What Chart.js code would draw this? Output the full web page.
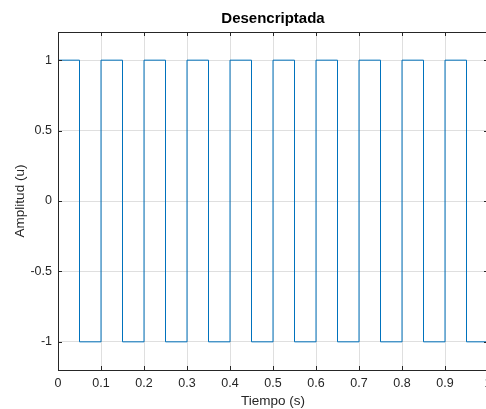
<!DOCTYPE html>
<html>
<head>
<meta charset="utf-8">
<script src="https://cdn.jsdelivr.net/npm/chart.js@4/dist/chart.umd.min.js"></script>
<style>
  html, body { margin: 0; padding: 0; background: #fff; overflow: hidden; }
  #wrap { width: 486px; height: 409px; overflow: hidden; }
  canvas { display: block; }
</style>
</head>
<body>
<div id="wrap"><canvas id="grafico" width="500" height="409"></canvas></div>
<script>
// --- Datos ---
const tiempo = [0, 0.05, 0.1, 0.15, 0.2, 0.25, 0.3, 0.35, 0.4, 0.45, 0.5,
                0.55, 0.6, 0.65, 0.7, 0.75, 0.8, 0.85, 0.9, 0.95, 1];
const amplitud = [1, -1, 1, -1, 1, -1, 1, -1, 1, -1, 1,
                  -1, 1, -1, 1, -1, 1, -1, 1, -1, -1];

const ticksX = [0, 0.1, 0.2, 0.3, 0.4, 0.5, 0.6, 0.7, 0.8, 0.9, 1];
const etiquetasX = ['0', '0.1', '0.2', '0.3', '0.4', '0.5', '0.6', '0.7', '0.8', '0.9', '1'];
const ticksY = [-1, -0.5, 0, 0.5, 1];
const etiquetasY = ['-1', '-0.5', '0', '0.5', '1'];

const TITULO = 'Desencriptada';
const FUENTE = "'Liberation Sans', Arial, Helvetica, sans-serif";
const GRIS = '#262626';

// --- Caja, marcas hacia dentro y titulo centrado sobre los ejes (estilo MATLAB) ---
const cajaMatlab = {
    id: 'cajaMatlab',
    afterDraw(chart) {
        const { ctx, chartArea: a, scales } = chart;
        const largo = 4;
        ctx.save();
        ctx.strokeStyle = GRIS;
        ctx.lineWidth = 1;
        ctx.beginPath();
        ticksX.forEach(v => {
            const px = Math.round(scales.x.getPixelForValue(v)) + 0.5;
            ctx.moveTo(px, a.top); ctx.lineTo(px, a.top + largo);
            ctx.moveTo(px, a.bottom); ctx.lineTo(px, a.bottom - largo);
        });
        ticksY.forEach(v => {
            const py = Math.round(scales.y.getPixelForValue(v)) + 0.5;
            ctx.moveTo(a.left, py); ctx.lineTo(a.left + largo, py);
            ctx.moveTo(a.right, py); ctx.lineTo(a.right - largo, py);
        });
        ctx.stroke();
        ctx.strokeRect(Math.round(a.left) + 0.5, Math.round(a.top) + 0.5,
                       Math.round(a.right - a.left), Math.round(a.bottom - a.top));

        ctx.fillStyle = '#000';
        ctx.font = 'bold 15px ' + FUENTE;
        ctx.textAlign = 'center';
        ctx.textBaseline = 'middle';
        ctx.fillText(TITULO, (a.left + a.right) / 2, 19);
        ctx.restore();
    }
};

new Chart(document.getElementById('grafico'), {
    type: 'line',
    data: {
        datasets: [{
            data: tiempo.map((t, i) => ({ x: t, y: amplitud[i] })),
            borderColor: '#0072BD',
            borderWidth: 1,
            stepped: 'before',
            pointRadius: 0,
            fill: false
        }]
    },
    options: {
        responsive: false,
        animation: false,
        layout: { padding: { top: 32, left: 0, right: 12, bottom: 0 } },
        plugins: {
            legend: { display: false },
            tooltip: { enabled: false },
            title: { display: false }
        },
        scales: {
            x: {
                type: 'linear',
                min: 0,
                max: 1,
                afterBuildTicks: s => { s.ticks = ticksX.map(v => ({ value: v })); },
                afterFit: s => { s.height = 39; },
                ticks: {
                    autoSkip: false,
                    maxRotation: 0,
                    padding: 6,
                    color: GRIS,
                    font: { family: FUENTE, size: 12.5 },
                    callback: (v, i) => etiquetasX[i]
                },
                grid: { color: 'rgba(38,38,38,0.15)', drawTicks: false },
                border: { display: false },
                title: {
                    display: true,
                    text: 'Tiempo (s)',
                    color: GRIS,
                    font: { family: FUENTE, size: 13.5 },
                    padding: { top: 0, bottom: 0 }
                }
            },
            y: {
                min: -1.2,
                max: 1.2,
                afterBuildTicks: s => { s.ticks = ticksY.map(v => ({ value: v })); },
                afterFit: s => { s.width = 58; },
                ticks: {
                    autoSkip: false,
                    padding: 6,
                    color: GRIS,
                    font: { family: FUENTE, size: 12.5 },
                    callback: (v, i) => etiquetasY[i]
                },
                grid: { color: 'rgba(38,38,38,0.15)', drawTicks: false },
                border: { display: false },
                title: {
                    display: true,
                    text: 'Amplitud (u)',
                    color: GRIS,
                    font: { family: FUENTE, size: 13.5 },
                    padding: { top: 12, bottom: 0 }
                }
            }
        }
    },
    plugins: [cajaMatlab]
});
</script>
</body>
</html>
